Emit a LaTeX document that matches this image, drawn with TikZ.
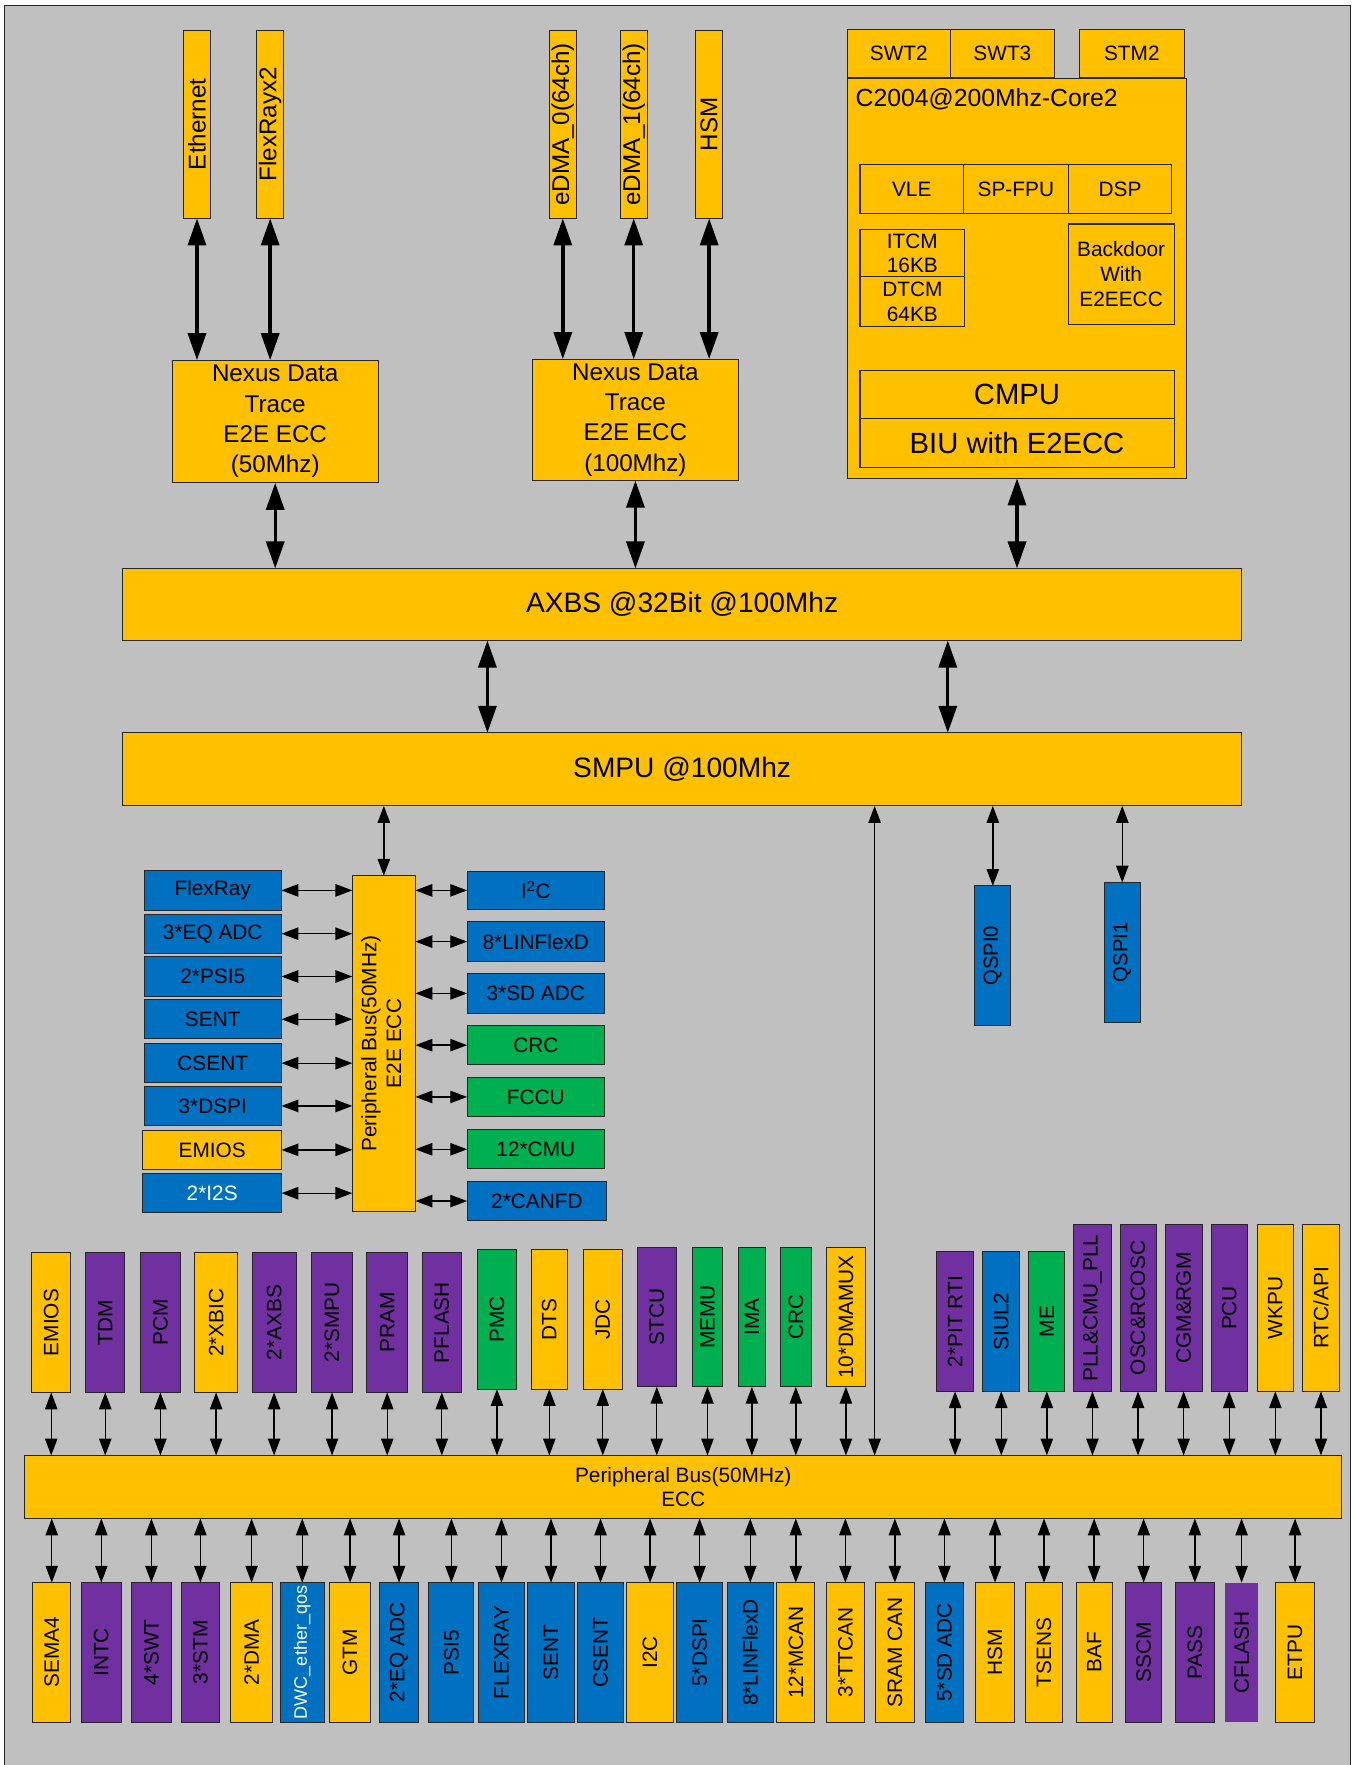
\documentclass[tikz,border=0pt]{standalone}
\usepackage{fontspec}
\setmainfont{Liberation Sans}
\usepackage{graphicx}
\usepackage{tikz}
\usetikzlibrary{arrows.meta,positioning}

\definecolor{chipgray}{HTML}{C0C0C0}
\definecolor{chipyellow}{HTML}{FFC000}
\definecolor{chipblue}{HTML}{0070C0}
\definecolor{chipgreen}{HTML}{00B050}
\definecolor{chippurple}{HTML}{7030A0}
\newcommand{\sidetext}[1]{\rotatebox{90}{#1}}

\begin{document}
\begin{tikzpicture}[x=1pt,y=-1pt,
unit box/.style={draw=black!85,line width=0.9pt,inner sep=0pt,outer sep=0pt,align=center,font=\fontsize{18.5}{22}\selectfont},
box size/.style 2 args={minimum width=#1pt,minimum height=#2pt},
yel box/.style={unit box,fill=chipyellow},
blu box/.style={unit box,fill=chipblue},
grn box/.style={unit box,fill=chipgreen},
pur box/.style={unit box,fill=chippurple},
top port/.style={yel box,box size={24}{167},font=\fontsize{21.5}{26}\selectfont},
nexus box/.style={yel box,font=\fontsize{21.5}{27}\selectfont},
main bus/.style={yel box,font=\fontsize{25}{30}\selectfont},
big link/.style={{Triangle[length=24pt,width=16pt]}-{Triangle[length=24pt,width=16pt]},line width=3pt},
small link/.style={{Triangle[length=15pt,width=11pt]}-{Triangle[length=15pt,width=11pt]},line width=1.2pt}]
\useasboundingbox (0,0) rectangle (1202,1568);
\fill[chipgray] (4,4.5) rectangle (1199.5,1572);
\draw[line width=1pt,black!85] (4,4.5) rectangle (1199.5,1572);

% masters
\node[top port] (eth) at (175,110.5) {\sidetext{Ethernet}};
\node[top port] (frx) at (240,110.5) {\sidetext{FlexRayx2}};
\node[top port] (edma0) at (500,110.5) {\sidetext{eDMA\_0(64ch)}};
\node[top port] (edma1) at (563,110.5) {\sidetext{eDMA\_1(64ch)}};
\node[top port] (hsmtop) at (630,110.5) {\sidetext{HSM}};
\node[nexus box,box size={183}{109}] (nexA) at (244.5,374.5) {Nexus Data\\Trace\\E2E ECC\\(50Mhz)};
\node[nexus box,box size={183}{108}] (nexB) at (564.5,373) {Nexus Data\\Trace\\E2E ECC\\(100Mhz)};

% core
\node[yel box,box size={91}{43}] (swt2) at (798.5,47.5) {SWT2};
\node[yel box,box size={93}{43},right=0pt of swt2] (swt3) {SWT3};
\node[yel box,box size={93}{43}] (stm2) at (1005.5,47.5) {STM2};
\node[yel box,box size={301}{355}] (core) at (903.5,247.5) {};
\node[anchor=west,inner sep=0pt,font=\fontsize{22}{26}\selectfont] (coretitle) at (760,88) {C2004@200Mhz-Core2};
\node[yel box,box size={92}{44}] (vle) at (810,168) {VLE};
\node[yel box,box size={93}{44},right=0pt of vle] (spfpu) {SP-FPU};
\node[yel box,box size={92}{44},right=0pt of spfpu] (dsp) {DSP};
\node[yel box,box size={93}{42}] (itcm) at (810.5,225) {ITCM\\16KB};
\node[yel box,box size={93}{44},below=0pt of itcm] (dtcm) {DTCM\\64KB};
\node[yel box,box size={94}{89}] (backdoor) at (996,243.5) {Backdoor\\With\\E2EECC};
\node[yel box,box size={279}{43},font=\fontsize{26}{30}\selectfont] (cmpu) at (903.5,350.5) {CMPU};
\node[yel box,box size={279}{43},font=\fontsize{26}{30}\selectfont,below=0pt of cmpu] (biu) {BIU with E2ECC};

% crossbar
\node[main bus,box size={994}{64}] (axbs) at (606,537) {AXBS @32Bit @100Mhz};
\node[main bus,box size={994}{65}] (smpu) at (606,683.5) {SMPU @100Mhz};

\draw[big link] (eth.south) -- (eth.south |- nexA.north);
\draw[big link] (frx.south) -- (frx.south |- nexA.north);
\draw[big link] (edma0.south) -- (edma0.south |- nexB.north);
\draw[big link] (edma1.south) -- (edma1.south |- nexB.north);
\draw[big link] (hsmtop.south) -- (hsmtop.south |- nexB.north);
\draw[big link] (nexA.south) -- (nexA.south |- axbs.north);
\draw[big link] (nexB.south) -- (nexB.south |- axbs.north);
\draw[big link] (core.south) -- (core.south |- axbs.north);
\draw[big link] ([xshift=-173pt]axbs.south) -- ([xshift=-173pt]smpu.north);
\draw[big link] ([xshift=236pt]axbs.south) -- ([xshift=236pt]smpu.north);

% E2E peripheral bus
\node[yel box,box size={56}{298}] (pbusv) at (341,927) {\sidetext{\begin{tabular}{@{}c@{}}Peripheral Bus(50MHz)\\E2E ECC\end{tabular}}};
\node[blu box,box size={122}{35}] (flexray) at (189,791) {FlexRay};
\node[blu box,box size={122}{35}] (eqadc) at (189,829.5) {3*EQ ADC};
\node[blu box,box size={122}{35}] (psi) at (189,867.5) {2*PSI5};
\node[blu box,box size={122}{35}] (sent) at (189,905.5) {SENT};
\node[blu box,box size={122}{35}] (csent) at (189,944.5) {CSENT};
\node[blu box,box size={122}{35}] (dspi) at (189,982.5) {3*DSPI};
\node[yel box,box size={123}{35}] (emiosl) at (188.5,1021.5) {EMIOS};
\node[blu box,box size={123}{35},text=white] (iis) at (188.5,1060) {2*I2S};
\node[blu box,box size={122}{34}] (iic) at (476,791) {I\textsuperscript{2}C};
\node[blu box,box size={122}{35}] (linflex) at (476,836.5) {8*LINFlexD};
\node[blu box,box size={122}{35}] (sdadc) at (476,882.5) {3*SD ADC};
\node[grn box,box size={122}{35}] (crcr) at (476,928.5) {CRC};
\node[grn box,box size={122}{35}] (fccu) at (476,974.5) {FCCU};
\node[grn box,box size={122}{35}] (cmu) at (476,1021) {12*CMU};
\node[blu box,box size={124}{35}] (canfd) at (477,1067) {2*CANFD};

\draw[small link] (smpu.south -| pbusv.north) -- (pbusv.north);
\draw[small link] (flexray.east) -- (flexray.east -| pbusv.west);
\draw[small link] (eqadc.east) -- (eqadc.east -| pbusv.west);
\draw[small link] (psi.east) -- (psi.east -| pbusv.west);
\draw[small link] (sent.east) -- (sent.east -| pbusv.west);
\draw[small link] (csent.east) -- (csent.east -| pbusv.west);
\draw[small link] (dspi.east) -- (dspi.east -| pbusv.west);
\draw[small link] (emiosl.east) -- (emiosl.east -| pbusv.west);
\draw[small link] (iis.east) -- (iis.east -| pbusv.west);
\draw[small link] (iic.west -| pbusv.east) -- (iic.west);
\draw[small link] (linflex.west -| pbusv.east) -- (linflex.west);
\draw[small link] (sdadc.west -| pbusv.east) -- (sdadc.west);
\draw[small link] (crcr.west -| pbusv.east) -- (crcr.west);
\draw[small link] (fccu.west -| pbusv.east) -- (fccu.west);
\draw[small link] (cmu.west -| pbusv.east) -- (cmu.west);
\draw[small link] (canfd.west -| pbusv.east) -- (canfd.west);

% QSPI
\node[blu box,box size={32}{124},font=\fontsize{18}{22}\selectfont] (qspiA) at (882,849) {\sidetext{QSPI0}};
\node[blu box,box size={32}{124},font=\fontsize{18}{22}\selectfont] (qspiB) at (997,846) {\sidetext{QSPI1}};
\draw[small link] (smpu.south -| qspiA.north) -- (qspiA.north);
\draw[small link] (smpu.south -| qspiB.north) -- (qspiB.north);

% peripheral bus
\node[yel box,box size={1170}{56}] (pbus) at (607,1321) {Peripheral Bus(50MHz)\\ECC};
\coordinate (tap) at (777,1000);
\draw[small link] (smpu.south -| tap) -- (pbus.north -| tap);

% upper peripherals
\node[yel box,box size={35}{124}] (emiosu) at (45.5,1175) {\sidetext{EMIOS}};
\node[pur box,box size={35}{124}] (tdm) at (93.5,1175) {\sidetext{TDM}};
\node[pur box,box size={35}{124}] (pcm) at (142.5,1175) {\sidetext{PCM}};
\node[yel box,box size={38}{124}] (xbic) at (192,1175) {\sidetext{2*XBIC}};
\node[pur box,box size={39}{124}] (axbsx) at (243.5,1175) {\sidetext{2*AXBS}};
\node[pur box,box size={36}{124}] (smpux) at (295,1175) {\sidetext{2*SMPU}};
\node[pur box,box size={36}{124}] (pram) at (344,1175) {\sidetext{PRAM}};
\node[pur box,box size={35}{124}] (pflash) at (392.5,1175) {\sidetext{PFLASH}};
\node[grn box,box size={35}{124}] (pmc) at (441.5,1172) {\sidetext{PMC}};
\node[yel box,box size={32}{124}] (dts) at (488,1172) {\sidetext{DTS}};
\node[yel box,box size={35}{124}] (jdc) at (535.5,1172) {\sidetext{JDC}};
\node[pur box,box size={35}{124}] (stcu) at (583.5,1170) {\sidetext{STCU}};
\node[grn box,box size={27}{124}] (memu) at (628.5,1170) {\sidetext{MEMU}};
\node[grn box,box size={24}{124}] (ima) at (668,1170) {\sidetext{IMA}};
\node[grn box,box size={28}{124}] (crcu) at (707,1170) {\sidetext{CRC}};
\node[yel box,box size={35}{124}] (dmamux) at (751.5,1170) {\sidetext{10*DMAMUX}};
\node[pur box,box size={33}{124}] (pitrti) at (848.5,1174) {\sidetext{2*PIT RTI}};
\node[blu box,box size={33}{124}] (siul) at (889.5,1174) {\sidetext{SIUL2}};
\node[grn box,box size={32}{124}] (me) at (930,1174) {\sidetext{ME}};
\node[pur box,box size={33}{148}] (pll) at (970.5,1162) {\sidetext{PLL\&CMU\_PLL}};
\node[pur box,box size={32}{148}] (osc) at (1011,1162) {\sidetext{OSC\&RCOSC}};
\node[pur box,box size={33}{148}] (cgm) at (1051.5,1162) {\sidetext{CGM\&RGM}};
\node[pur box,box size={32}{148}] (pcu) at (1092,1162) {\sidetext{PCU}};
\node[yel box,box size={32}{148}] (wkpu) at (1133,1162) {\sidetext{WKPU}};
\node[yel box,box size={33}{148}] (rtc) at (1173.5,1162) {\sidetext{RTC/API}};

\draw[small link] (emiosu.south) -- (emiosu.south |- pbus.north);
\draw[small link] (tdm.south) -- (tdm.south |- pbus.north);
\draw[small link] (pcm.south) -- (pcm.south |- pbus.north);
\draw[small link] (xbic.south) -- (xbic.south |- pbus.north);
\draw[small link] (axbsx.south) -- (axbsx.south |- pbus.north);
\draw[small link] (smpux.south) -- (smpux.south |- pbus.north);
\draw[small link] (pram.south) -- (pram.south |- pbus.north);
\draw[small link] (pflash.south) -- (pflash.south |- pbus.north);
\draw[small link] (pmc.south) -- (pmc.south |- pbus.north);
\draw[small link] (dts.south) -- (dts.south |- pbus.north);
\draw[small link] (jdc.south) -- (jdc.south |- pbus.north);
\draw[small link] (stcu.south) -- (stcu.south |- pbus.north);
\draw[small link] (memu.south) -- (memu.south |- pbus.north);
\draw[small link] (ima.south) -- (ima.south |- pbus.north);
\draw[small link] (crcu.south) -- (crcu.south |- pbus.north);
\draw[small link] (dmamux.south) -- (dmamux.south |- pbus.north);
\draw[small link] (pitrti.south) -- (pitrti.south |- pbus.north);
\draw[small link] (siul.south) -- (siul.south |- pbus.north);
\draw[small link] (me.south) -- (me.south |- pbus.north);
\draw[small link] (pll.south) -- (pll.south |- pbus.north);
\draw[small link] (osc.south) -- (osc.south |- pbus.north);
\draw[small link] (cgm.south) -- (cgm.south |- pbus.north);
\draw[small link] (pcu.south) -- (pcu.south |- pbus.north);
\draw[small link] (wkpu.south) -- (wkpu.south |- pbus.north);
\draw[small link] (rtc.south) -- (rtc.south |- pbus.north);

% lower peripherals
\node[yel box,box size={34}{124}] (sema) at (46,1468) {\sidetext{SEMA4}};
\node[pur box,box size={36}{124}] (intc) at (90,1468) {\sidetext{INTC}};
\node[pur box,box size={35}{124}] (swt) at (134.5,1468) {\sidetext{4*SWT}};
\node[pur box,box size={34}{124}] (stm) at (178,1468) {\sidetext{3*STM}};
\node[yel box,box size={37}{124}] (dma) at (223.5,1468) {\sidetext{2*DMA}};
\node[blu box,box size={39}{124},text=white,font=\fontsize{16}{20}\selectfont] (dwc) at (268.5,1468) {\sidetext{DWC\_ether\_qos}};
\node[yel box,box size={36}{124}] (gtm) at (311,1468) {\sidetext{GTM}};
\node[blu box,box size={35}{124}] (eqadcb) at (354.5,1468) {\sidetext{2*EQ ADC}};
\node[blu box,box size={40}{124}] (psib) at (401,1468) {\sidetext{PSI5}};
\node[blu box,box size={41}{124}] (flexrayb) at (445.5,1468) {\sidetext{FLEXRAY}};
\node[blu box,box size={41}{124}] (sentb) at (489.5,1468) {\sidetext{SENT}};
\node[blu box,box size={41}{124}] (csentb) at (533.5,1468) {\sidetext{CSENT}};
\node[yel box,box size={41}{124}] (iicb) at (577.5,1468) {\sidetext{I2C}};
\node[blu box,box size={41}{124}] (dspib) at (621.5,1468) {\sidetext{5*DSPI}};
\node[blu box,box size={41}{124}] (linb) at (666.5,1468) {\sidetext{8*LINFlexD}};
\node[yel box,box size={34}{124}] (mcan) at (707,1468) {\sidetext{12*MCAN}};
\node[yel box,box size={34}{124}] (ttcan) at (751,1468) {\sidetext{3*TTCAN}};
\node[yel box,box size={34}{124}] (sramcan) at (795,1468) {\sidetext{SRAM CAN}};
\node[blu box,box size={34}{124}] (sdadcb) at (839,1468) {\sidetext{5*SD ADC}};
\node[yel box,box size={34}{124}] (hsmb) at (884,1468) {\sidetext{HSM}};
\node[yel box,box size={33}{124}] (tsens) at (927.5,1468) {\sidetext{TSENS}};
\node[yel box,box size={32}{124}] (baf) at (972,1468) {\sidetext{BAF}};
\node[pur box,box size={32}{124}] (sscm) at (1016,1468) {\sidetext{SSCM}};
\node[pur box,box size={35}{124}] (pass) at (1061.5,1468) {\sidetext{PASS}};
\node[pur box,box size={30}{124},draw=none] (cflash) at (1103,1468) {\sidetext{CFLASH}};
\node[yel box,box size={35}{124}] (etpu) at (1150.5,1468) {\sidetext{ETPU}};

\draw[small link] (pbus.south -| sema.north) -- (sema.north);
\draw[small link] (pbus.south -| intc.north) -- (intc.north);
\draw[small link] (pbus.south -| swt.north) -- (swt.north);
\draw[small link] (pbus.south -| stm.north) -- (stm.north);
\draw[small link] (pbus.south -| dma.north) -- (dma.north);
\draw[small link] (pbus.south -| dwc.north) -- (dwc.north);
\draw[small link] (pbus.south -| gtm.north) -- (gtm.north);
\draw[small link] (pbus.south -| eqadcb.north) -- (eqadcb.north);
\draw[small link] (pbus.south -| psib.north) -- (psib.north);
\draw[small link] (pbus.south -| flexrayb.north) -- (flexrayb.north);
\draw[small link] (pbus.south -| sentb.north) -- (sentb.north);
\draw[small link] (pbus.south -| csentb.north) -- (csentb.north);
\draw[small link] (pbus.south -| iicb.north) -- (iicb.north);
\draw[small link] (pbus.south -| dspib.north) -- (dspib.north);
\draw[small link] (pbus.south -| linb.north) -- (linb.north);
\draw[small link] (pbus.south -| mcan.north) -- (mcan.north);
\draw[small link] (pbus.south -| ttcan.north) -- (ttcan.north);
\draw[small link] (pbus.south -| sramcan.north) -- (sramcan.north);
\draw[small link] (pbus.south -| sdadcb.north) -- (sdadcb.north);
\draw[small link] (pbus.south -| hsmb.north) -- (hsmb.north);
\draw[small link] (pbus.south -| tsens.north) -- (tsens.north);
\draw[small link] (pbus.south -| baf.north) -- (baf.north);
\draw[small link] (pbus.south -| sscm.north) -- (sscm.north);
\draw[small link] (pbus.south -| pass.north) -- (pass.north);
\draw[small link] (pbus.south -| cflash.north) -- (cflash.north);
\draw[small link] (pbus.south -| etpu.north) -- (etpu.north);
\end{tikzpicture}
\end{document}
